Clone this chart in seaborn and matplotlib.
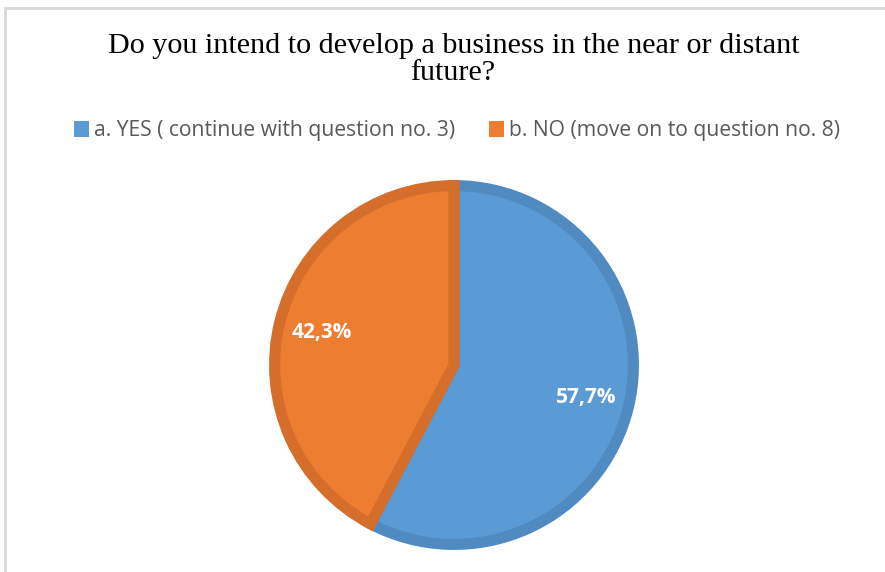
import matplotlib
matplotlib.use("Agg")
import matplotlib.pyplot as plt
import seaborn as sns
import numpy as np
from matplotlib.patches import Rectangle, Patch

categories = ["a. YES ( continue with question no. 3)", "b. NO (move on to question no. 8)"]
values = [57.7, 42.3]
labels = ["57,7%", "42,3%"]
colors = ["#5B9BD5", "#ED7D31"]
edge_colors = ["#4F8BC0", "#D66E2B"]
title_lines = ["Do you intend to develop a business in the near or distant", "future?"]

sns.set_theme(style="white")
plt.rcParams['font.family'] = ['Open Sans', 'DejaVu Sans']

W, H = 885, 572
fig = plt.figure(figsize=(W / 100, H / 100), dpi=100)
fig.patch.set_facecolor("white")

# frame (light grey border, top and left visible)
fig.add_artist(Rectangle((5 / W, -0.1), 1.2, 1 - 8 / H + 0.1, transform=fig.transFigure,
                         fill=False, edgecolor="#D9D9D9", linewidth=2))

# pie axes: centre (454, 365), radius ~184 px
cx, cy, r = 454, 365, 184
ax = fig.add_axes([(cx - r) / W, (H - cy - r) / H, 2 * r / W, 2 * r / H])
wedges, _ = ax.pie(values, colors=colors, startangle=90, counterclock=False,
                   radius=0.975, wedgeprops=dict(linewidth=8, joinstyle="miter"))
for w, ec in zip(wedges, edge_colors):
    w.set_edgecolor(ec)
ax.set_xlim(-1, 1)
ax.set_ylim(-1, 1)
ax.set_aspect("equal")
ax.axis("off")

for w, lab in zip(wedges, labels):
    ang = np.deg2rad((w.theta1 + w.theta2) / 2)
    ax.text(0.74 * np.cos(ang), 0.74 * np.sin(ang), lab, ha="center", va="center",
            color="white", fontsize=15, fontweight="bold", family=["Open Sans", "DejaVu Sans"])

title_font = ["Liberation Serif", "DejaVu Serif"]
fig.text(454 / W, 1 - 53 / H, title_lines[0], ha="center", va="baseline", fontsize=21.7,
         family=title_font, color="#000000")
fig.text(453 / W, 1 - 80 / H, title_lines[1], ha="center", va="baseline", fontsize=21.7,
         family=title_font, color="#000000")

handles = [Patch(facecolor=c, edgecolor="none") for c in colors]
fig.legend(handles, categories, loc="center", bbox_to_anchor=(457 / W, 1 - 131 / H),
           ncol=2, frameon=False, fontsize=15.2, labelcolor="#595959",
           handlelength=0.7, handleheight=0.75, handletextpad=0.25, columnspacing=1.6)

fig.savefig("out.png", dpi=100, facecolor="white")
